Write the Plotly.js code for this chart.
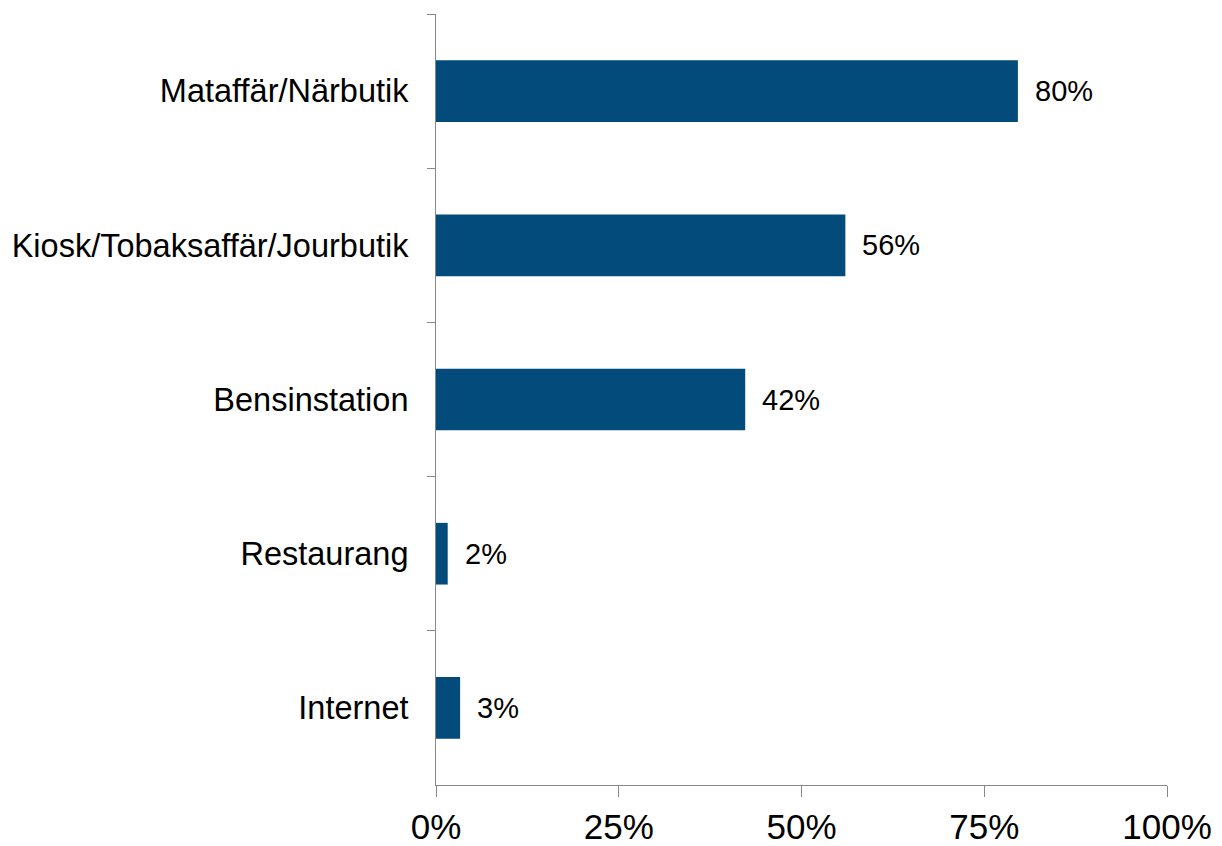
<!DOCTYPE html>
<html>
<head>
<meta charset="utf-8">
<script src="https://cdn.plot.ly/plotly-3.0.1.min.js"></script>
<style>html,body{margin:0;padding:0;background:#fff;}#chart{width:1222px;height:846px;}</style>
</head>
<body>
<div id="chart"></div>
<script>
const categories = ["Mataffär/Närbutik", "Kiosk/Tobaksaffär/Jourbutik", "Bensinstation", "Restaurang", "Internet"];
const values = [0.796, 0.56, 0.423, 0.016, 0.033];
const valueLabels = ["80%", "56%", "42%", "2%", "3%"];
const xTickVals = [0, 0.25, 0.5, 0.75, 1];
const xTickText = ["0%", "25%", "50%", "75%", "100%"];

const trace = {
  type: "bar",
  orientation: "h",
  y: categories,
  x: values,
  marker: {color: "#034b7b", line: {width: 0}},
  hoverinfo: "none",
  width: 0.4
};

const annotations = categories.map((c, i) => ({
  x: values[i], y: c, xref: "x", yref: "y",
  text: valueLabels[i], showarrow: false,
  xanchor: "left", yanchor: "middle", xshift: 15,
  font: {family: "Liberation Sans, Arial, sans-serif", size: 29, color: "#000"}
}));

const layout = {
  width: 1222, height: 846,
  margin: {l: 436, r: 55, t: 14, b: 61},
  paper_bgcolor: "#fff", plot_bgcolor: "#fff",
  showlegend: false,
  font: {family: "Liberation Sans, Arial, sans-serif", color: "#000"},
  xaxis: {
    range: [0, 1],
    tickvals: xTickVals, ticktext: xTickText,
    ticks: "outside", ticklen: 11, tickcolor: "#888", tickwidth: 1,
    showline: true, linecolor: "#888", linewidth: 1,
    showgrid: false, zeroline: false,
    tickfont: {size: 35, color: "#000"},
    ticklabelstandoff: 0,
    fixedrange: true
  },
  yaxis: {
    type: "category",
    categoryorder: "array", categoryarray: categories,
    autorange: "reversed",
    ticks: "outside", tickson: "boundaries", ticklen: 8, tickcolor: "#888", tickwidth: 1,
    showline: true, linecolor: "#888", linewidth: 1,
    showgrid: false, zeroline: false,
    tickfont: {size: 32.5, color: "#000"},
    ticklabelstandoff: 20,
    fixedrange: true
  },
  annotations: annotations
};

Plotly.newPlot("chart", [trace], layout, {displayModeBar: false, staticPlot: true});
</script>
</body>
</html>
